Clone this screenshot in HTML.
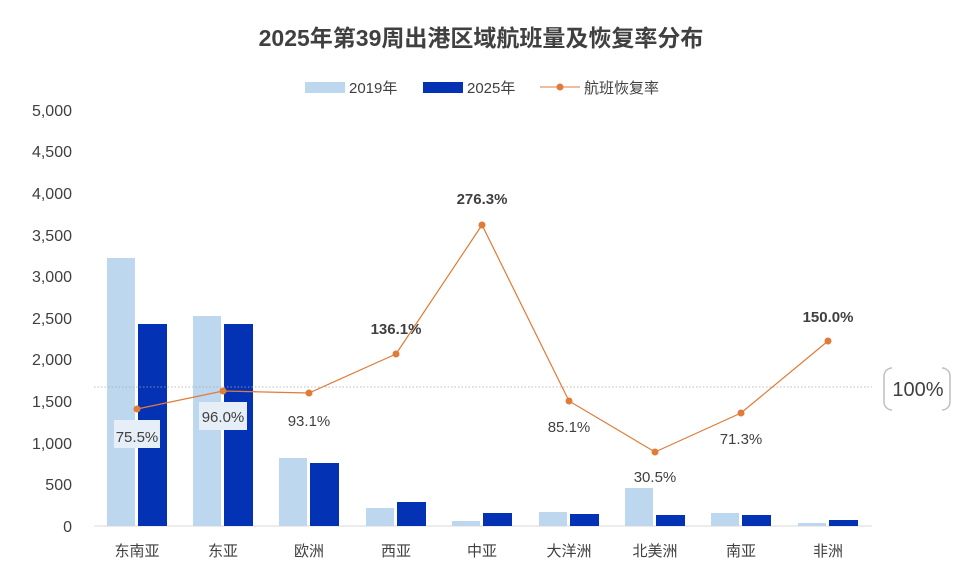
<!DOCTYPE html>
<html><head><meta charset="utf-8"><style>
body{margin:0;background:#fff;}
svg text{font-family:"Liberation Sans","Noto Sans CJK SC",sans-serif;}
</style></head><body>
<svg width="962" height="568" viewBox="0 0 962 568" xmlns="http://www.w3.org/2000/svg">
<rect width="962" height="568" fill="#fff"/>
<text x="481" y="46" text-anchor="middle" font-size="23" font-weight="bold" fill="#404040">2025年第39周出港区域航班量及恢复率分布</text>
<rect x="305" y="82" width="40" height="11" fill="#bdd7ee"/>
<text x="349" y="93" font-size="15" fill="#404040">2019年</text>
<rect x="423" y="82" width="40" height="11" fill="#0432b4"/>
<text x="467" y="93" font-size="15" fill="#404040">2025年</text>
<line x1="540" y1="87" x2="580" y2="87" stroke="#e07b39" stroke-width="1"/>
<circle cx="560" cy="87" r="3.5" fill="#e07b39"/>
<text x="584" y="93" font-size="15" fill="#404040">航班恢复率</text>
<g font-size="16" fill="#404040" text-anchor="end">
<text x="72" y="532">0</text><text x="72" y="490">500</text><text x="72" y="449">1,000</text>
<text x="72" y="407">1,500</text><text x="72" y="365">2,000</text><text x="72" y="324">2,500</text>
<text x="72" y="282">3,000</text><text x="72" y="241">3,500</text><text x="72" y="199">4,000</text>
<text x="72" y="157">4,500</text><text x="72" y="116">5,000</text>
</g>
<line x1="94" y1="526" x2="872" y2="526" stroke="#d9d9d9" stroke-width="1"/>
<g fill="#bdd7ee">
<rect x="107" y="258" width="28" height="268"/>
<rect x="193" y="316" width="28" height="210"/>
<rect x="279" y="458" width="28" height="68"/>
<rect x="366" y="508" width="28" height="18"/>
<rect x="452" y="521" width="28" height="5"/>
<rect x="539" y="512" width="28" height="14"/>
<rect x="625" y="488" width="28" height="38"/>
<rect x="711" y="513" width="28" height="13"/>
<rect x="798" y="523" width="28" height="3"/>
</g>
<g fill="#0432b4">
<rect x="138" y="324" width="29" height="202"/>
<rect x="224" y="324" width="29" height="202"/>
<rect x="310" y="463" width="29" height="63"/>
<rect x="397" y="502" width="29" height="24"/>
<rect x="483" y="513" width="29" height="13"/>
<rect x="570" y="514" width="29" height="12"/>
<rect x="656" y="515" width="29" height="11"/>
<rect x="742" y="515" width="29" height="11"/>
<rect x="829" y="520" width="29" height="6"/>
</g>
<line x1="94" y1="387" x2="872" y2="387" stroke="#a6a6a6" stroke-width="0.8" stroke-dasharray="1.5,2"/>
<rect x="884" y="368" width="66" height="42" rx="8" fill="none" stroke="#bfbfbf" stroke-width="1.5"/>
<rect x="892" y="366" width="50" height="46" fill="#fff"/>
<text x="918" y="396" text-anchor="middle" font-size="20" fill="#404040">100%</text>
<polyline points="137,409 223,391 309,393 396,354 482,225 569,401 655,452 741,413 828,341" fill="none" stroke="#e07b39" stroke-width="1.2"/>
<g fill="#e07b39">
<circle cx="137" cy="409" r="3.5"/><circle cx="223" cy="391" r="3.5"/><circle cx="309" cy="393" r="3.5"/>
<circle cx="396" cy="354" r="3.5"/><circle cx="482" cy="225" r="3.5"/><circle cx="569" cy="401" r="3.5"/>
<circle cx="655" cy="452" r="3.5"/><circle cx="741" cy="413" r="3.5"/><circle cx="828" cy="341" r="3.5"/>
</g>
<rect x="114" y="420" width="46" height="28" fill="#e6eef8"/>
<rect x="199" y="402" width="48" height="28" fill="#e6eef8"/>
<g font-size="15" fill="#404040" text-anchor="middle">
<text x="137" y="442">75.5%</text>
<text x="223" y="422">96.0%</text>
<text x="309" y="426">93.1%</text>
<text x="569" y="432">85.1%</text>
<text x="655" y="482">30.5%</text>
<text x="741" y="444">71.3%</text>
</g>
<g font-size="15" font-weight="bold" fill="#404040" text-anchor="middle">
<text x="396" y="334">136.1%</text>
<text x="482" y="204">276.3%</text>
<text x="828" y="322">150.0%</text>
</g>
<g font-size="15" fill="#404040" text-anchor="middle">
<text x="137" y="556">东南亚</text><text x="223" y="556">东亚</text><text x="309" y="556">欧洲</text>
<text x="396" y="556">西亚</text><text x="482" y="556">中亚</text><text x="569" y="556">大洋洲</text>
<text x="655" y="556">北美洲</text><text x="741" y="556">南亚</text><text x="828" y="556">非洲</text>
</g>
</svg>
</body></html>
